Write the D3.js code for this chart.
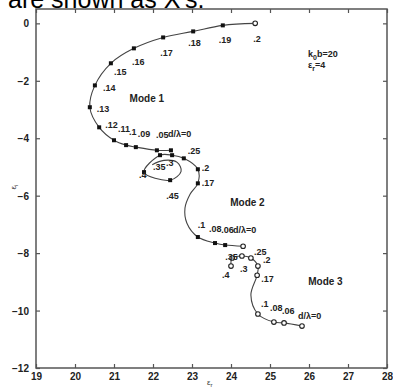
<!DOCTYPE html>
<html><head><meta charset="utf-8">
<script src="https://cdn.jsdelivr.net/npm/d3@7"></script>
<style>
html,body{margin:0;padding:0;background:#fff;}
svg{display:block;font-family:Arial,"Liberation Sans",sans-serif;}
</style></head>
<body><svg id="c" width="393" height="389"></svg>
<script>
// ---- data ----
const xTicks = [19,20,21,22,23,24,25,26,27,28];
const yTicks = [0,-2,-4,-6,-8,-10,-12];

// Mode 1 (d/lambda from .2 down to 0)
const mode1Er = [24.62,23.79,23.03,22.26,21.51,20.92,20.51,20.38,20.62,21.00,21.31,21.56,22.10,22.46];
const mode1Ei = [0.00,-0.07,-0.28,-0.49,-0.87,-1.39,-2.16,-2.92,-3.62,-4.07,-4.24,-4.31,-4.42,-4.42];
const mode1Lbl = [".2",".19",".18",".17",".16",".15",".14",".13",".12",".11",".1",".09",".05","d/\u03bb=0"];

// Mode 2 (d/lambda from 0 upward; null = curve point without marker)
const mode2Er = [24.31,23.85,23.59,23.15,22.87,22.82,22.95,23.15,23.15,22.79,22.49,22.18,21.77,22.44,22.72,22.62,22.28,21.98];
const mode2Ei = [-7.76,-7.72,-7.65,-7.44,-6.96,-6.43,-5.95,-5.57,-5.08,-4.70,-4.59,-4.59,-5.18,-5.46,-5.15,-4.84,-4.77,-4.92];
const mode2Lbl = ["d/\u03bb=0",".06",".08",".1",null,null,null,".17",".2",".25",".3",".35",".4",".45",null,null,null,null];

// Mode 3
const mode3Er = [25.82,25.36,25.10,24.69,24.51,24.67,24.69,24.51,24.28,24.03,24.00];
const mode3Ei = [-10.54,-10.43,-10.40,-10.12,-9.46,-8.77,-8.45,-8.17,-8.10,-8.17,-8.45];
const mode3Lbl = ["d/\u03bb=0",".06",".08",".1",null,".17",".2",".25",".3",".35",".4"];

const modeNames = ["Mode 1","Mode 2","Mode 3"];

(function(){
// ---- layout ----
const W = 393, H = 389;
const m = {left:36, right:6, top:9, bottom:21};
const svg = d3.select("#c");
const x = d3.scaleLinear().domain([19,28]).range([m.left, W - m.right]);
const y = d3.scaleLinear().domain([-12,0.5]).range([H - m.bottom, m.top]);

// label offsets (pixels) relative to each point
const off1 = [[-2,19],[-4,18],[-5,15],[-3,19],[-2,17],[3,12],[8,6],[7,5],[6,1],[4,-8],[3,-10],[2,-10],[-1,-12],[-3,-13]];
const off2 = [[-10,-13],[-4,-12],[-6,-11],[0,-9],null,null,null,[4,3],[4,2],[4,-4],[-6,11],[-7,15],[-5,6],[-4,19],null,null,null,null];
const off3 = [[-4,-7],[-2,-9],[-4,-11],[3,-7],null,[4,7],[5,-3],[3,-3],[-2,16],[-7,2],[-9,12]];

// caption fragment cut at top
svg.append("text").attr("x",8).attr("y",8).attr("font-size",25).attr("fill","#000")
  .text("are shown as X's.");

const g = svg.append("g");
const axisColor = "#555";

// frame
g.append("rect").attr("x",x(19)).attr("y",y(0.5)).attr("width",x(28)-x(19)).attr("height",y(-12)-y(0.5))
  .attr("fill","none").attr("stroke",axisColor).attr("stroke-width",1.5);

// axes with inward ticks
const tl = 4;
const axB = g.append("g").attr("transform",`translate(0,${y(-12)})`)
  .call(d3.axisBottom(x).tickValues(xTicks).tickSize(-tl).tickPadding(6).tickFormat(d3.format("d")));
const axT = g.append("g").attr("transform",`translate(0,${y(0.5)})`)
  .call(d3.axisTop(x).tickValues(xTicks).tickSize(-tl).tickFormat(""));
const axL = g.append("g").attr("transform",`translate(${x(19)},0)`)
  .call(d3.axisLeft(y).tickValues(yTicks).tickSize(-tl).tickPadding(7).tickFormat(d3.format("d")));
const axR = g.append("g").attr("transform",`translate(${x(28)},0)`)
  .call(d3.axisRight(y).tickValues(yTicks).tickSize(-tl).tickFormat(""));
[axB,axT,axL,axR].forEach(a=>{
  a.select(".domain").remove();
  a.selectAll(".tick line").attr("stroke",axisColor).attr("stroke-width",1.2);
  a.selectAll("text").attr("font-size",10).attr("font-weight","bold").attr("fill","#222")
    .attr("font-family","Arial,'Liberation Sans',sans-serif");
});
axL.selectAll(".tick text").attr("dy","0.35em");
axB.selectAll(".tick text").attr("dy","0.6em");

// axis labels
svg.append("text").attr("transform",`translate(16,187) rotate(-90)`).attr("text-anchor","middle")
  .attr("font-size",8).attr("fill","#333").html("\u03b5<tspan font-size='6' dy='2'>i</tspan>");
svg.append("text").attr("x",207).attr("y",385).attr("font-size",8).attr("fill","#333")
  .html("\u03b5<tspan font-size='6' dy='2'>r</tspan>");

// curves
const line = d3.line().x(d=>x(d[0])).y(d=>y(d[1])).curve(d3.curveCatmullRom.alpha(0.5));
const modes = [
  {er:mode1Er, ei:mode1Ei, lbl:mode1Lbl, off:off1, mk:"sq"},
  {er:mode2Er, ei:mode2Ei, lbl:mode2Lbl, off:off2, mk:"sq"},
  {er:mode3Er, ei:mode3Ei, lbl:mode3Lbl, off:off3, mk:"ci"}
];
modes.forEach((md,mi)=>{
  const pts = md.er.map((v,i)=>[v, md.ei[i], md.lbl[i], md.off[i]]);
  g.append("path").attr("d",line(pts)).attr("fill","none").attr("stroke","#444").attr("stroke-width",1.1);
  const marked = pts.filter(p=>p[2]!==null);
  marked.forEach((p,k)=>{
    const px = x(p[0]), py = y(p[1]);
    const circ = md.mk==="ci" || (mi===0 && k===0) || (mi===1 && k===0);
    if (circ) {
      g.append("circle").attr("cx",px).attr("cy",py).attr("r",2.3)
        .attr("fill","#fff").attr("stroke","#222").attr("stroke-width",1.1);
    } else {
      g.append("rect").attr("x",px-2).attr("y",py-2).attr("width",4).attr("height",4).attr("fill","#111");
    }
    g.append("text").attr("x",px+p[3][0]).attr("y",py+p[3][1])
      .attr("font-size",9).attr("font-weight","bold").attr("fill","#222").text(p[2]);
  });
});

// mode names
const namePos = [[21.4,-2.75],[23.98,-6.35],[25.98,-9.1]];
modeNames.forEach((n,i)=>{
  g.append("text").attr("x",x(namePos[i][0])).attr("y",y(namePos[i][1]))
    .attr("font-size",10).attr("font-weight","bold").attr("fill","#222").text(n);
});

// parameters
const t1 = g.append("text").attr("x",308).attr("y",57).attr("font-size",9).attr("font-weight","bold").attr("fill","#222");
t1.append("tspan").text("k");
t1.append("tspan").attr("dy",3).attr("font-size",7).text("0");
t1.append("tspan").attr("dy",-3).text("b=20");
const t2 = g.append("text").attr("x",308).attr("y",68).attr("font-size",9).attr("font-weight","bold").attr("fill","#222");
t2.append("tspan").text("\u03b5");
t2.append("tspan").attr("dy",3).attr("font-size",7).text("r");
t2.append("tspan").attr("dy",-3).text("=4");
})();
</script></body></html>
